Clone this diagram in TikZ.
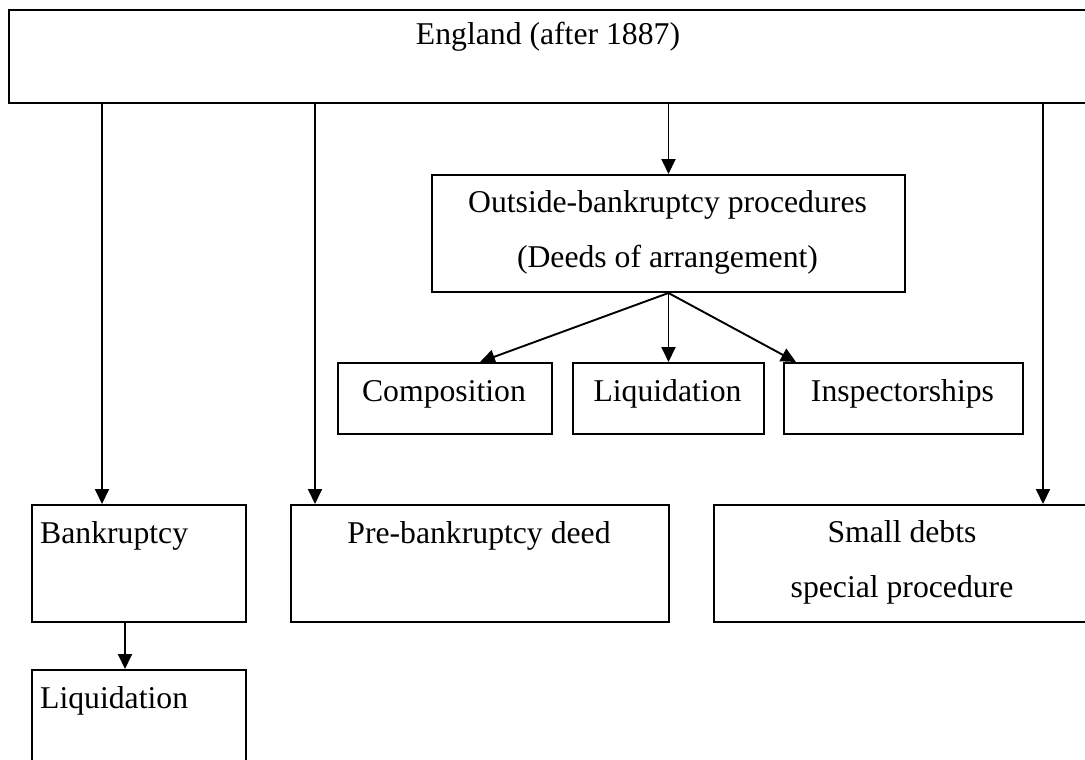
\documentclass[tikz,border=0pt]{standalone}
\usepackage{fontspec}
\setmainfont{Liberation Serif}
\usetikzlibrary{arrows.meta}
\begin{document}
\begin{tikzpicture}[x=1pt,y=-1pt,
  box/.style={draw, line width=2pt, inner sep=0pt, anchor=north west},
  txt/.style={inner sep=0pt, font=\fontsize{31.7}{38}\selectfont},
  arr/.style={line width=1.9pt, -{Triangle[length=15pt,width=14pt]}}]
\useasboundingbox (0,0) rectangle (1085,760);
\clip (0,0) rectangle (1085,760);

% boxes
\node[box, minimum width=1090pt, minimum height=93pt]  (eng)  at (8,9) {};
\node[box, minimum width=473pt,  minimum height=117pt] (out)  at (431,174) {};
\node[box, minimum width=214pt,  minimum height=71pt]  (comp) at (337,362) {};
\node[box, minimum width=191pt,  minimum height=71pt]  (liqa) at (572,362) {};
\node[box, minimum width=239pt,  minimum height=71pt]  (insp) at (783,362) {};
\node[box, minimum width=214pt,  minimum height=117pt] (bk)   at (31,504) {};
\node[box, minimum width=378pt,  minimum height=117pt] (pre)  at (290,504) {};
\node[box, minimum width=377pt,  minimum height=117pt] (small) at (713,504) {};
\node[box, minimum width=214pt,  minimum height=117pt] (liqb) at (31,669) {};

% labels
\node[txt, anchor=base] (engt) at (548,45) {England (after 1887)};
\node[txt, anchor=base] (outa) at (667.5,212) {Outside-bankruptcy procedures};
\node[txt, anchor=base] (outb) at (667.5,267) {(Deeds of arrangement)};
\node[txt, anchor=base] (compt) at (444,401) {Composition};
\node[txt, anchor=base] (liqat) at (667.5,401) {Liquidation};
\node[txt, anchor=base] (inspt) at (902.5,401) {Inspectorships};
\node[txt, anchor=base west] (bkt) at (40,543) {Bankruptcy};
\node[txt, anchor=base] (pret) at (479,543) {Pre-bankruptcy deed};
\node[txt, anchor=base] (smalla) at (902,542) {Small debts};
\node[txt, anchor=base] (smallb) at (902,597) {special procedure};
\node[txt, anchor=base west] (liqbt) at (40,708) {Liquidation};

% connectors from the top box
\draw[arr] ([xshift=71pt]bk.north west |- eng.south) -- ([xshift=71pt]bk.north west);
\draw[arr] ([xshift=25pt]pre.north west |- eng.south) -- ([xshift=25pt]pre.north west);
\draw[arr] (out.north |- eng.south) -- (out.north);
\draw[arr] ([xshift=330pt]small.north west |- eng.south) -- ([xshift=330pt]small.north west);

% fork below the deeds of arrangement
\draw[arr] (out.south) -- ([xshift=143pt]comp.north west);
\draw[arr] (out.south) -- (out.south |- liqa.north);
\draw[arr] (out.south) -- ([xshift=13pt]insp.north west);

% bankruptcy leads to liquidation
\draw[arr] ([xshift=94pt]bk.south west) -- ([xshift=94pt]liqb.north west);
\end{tikzpicture}
\end{document}
